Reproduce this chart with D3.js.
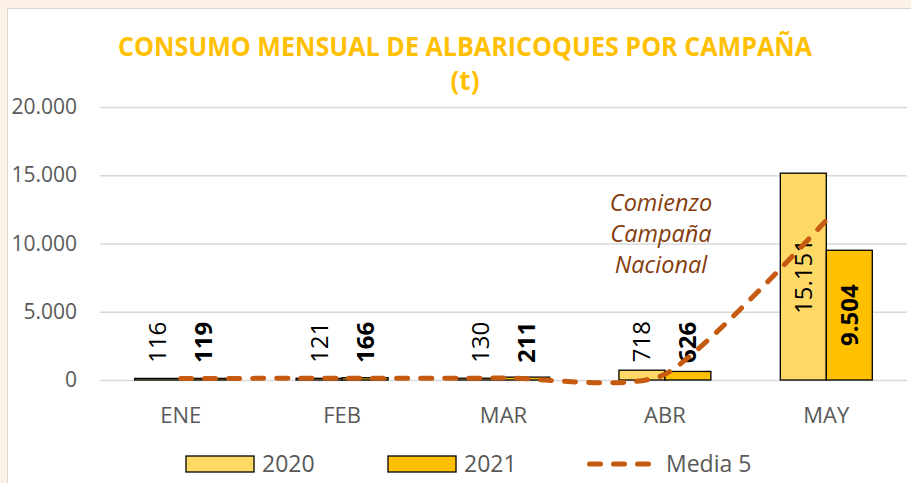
<!DOCTYPE html>
<html>
<head>
<meta charset="utf-8">
<script src="https://cdn.jsdelivr.net/npm/d3@7"></script>
<style>
  body { margin: 0; background: #fff; }
  svg { display: block; }
</style>
</head>
<body>
<svg id="chart" width="911" height="483"></svg>
<script>
// ---- data ----
const months = ["ENE", "FEB", "MAR", "ABR", "MAY"];
const seriesNames = ["2020", "2021"];
const values2020 = [116, 121, 130, 718, 15151];
const values2021 = [119, 166, 211, 626, 9504];
const media5 = [110, 130, 150, 420, 11700];
const media5Name = "Media 5";
const yTicks = [0, 5000, 10000, 15000, 20000];
const titleLines = ["CONSUMO MENSUAL DE ALBARICOQUES POR CAMPAÑA", "(t)"];
const noteLines = ["Comienzo", "Campaña", "Nacional"];

// ---- styling ----
const FONT = "'Open Sans', 'DejaVu Sans', sans-serif";
const colors = { "2020": "#FFD966", "2021": "#FFC000" };
const lineColor = "#C55A11";
const axisText = "#595959";
const gridColor = "#D9D9D9";

const es = d3.formatLocale({ decimal: ",", thousands: ".", grouping: [3], currency: ["", " €"] });
const fmt = es.format(",d");

const svg = d3.select("#chart");
const W = 911, H = 483;

// page background and chart frame
svg.append("rect").attr("width", W).attr("height", H).attr("fill", "#FCF1E6");
svg.append("rect").attr("x", 7.5).attr("y", 8.5).attr("width", W).attr("height", H)
  .attr("fill", "#fff").attr("stroke", "#D6D6D6").attr("stroke-width", 1);

// ---- scales ----
const plot = { left: 100, right: 907, top: 107, bottom: 380 };
const y = d3.scaleLinear().domain([0, 20000]).range([plot.bottom, plot.top]);
const x0 = d3.scaleBand().domain(months).range([plot.left, plot.right])
  .paddingInner(0.43).paddingOuter(0.215);
const x1 = d3.scaleBand().domain(seriesNames).range([0, x0.bandwidth()]);

const rows = months.map((m, i) => ({ month: m, "2020": values2020[i], "2021": values2021[i] }));

// ---- gridlines + y axis ----
const yAxis = d3.axisLeft(y).tickValues(yTicks).tickFormat(fmt)
  .tickSize(-(plot.right - plot.left)).tickPadding(23);
const gy = svg.append("g").attr("transform", `translate(${plot.left},0)`).call(yAxis);
gy.select(".domain").remove();
gy.selectAll(".tick line").attr("stroke", gridColor).attr("stroke-width", 1.3);
gy.selectAll(".tick text").attr("fill", axisText)
  .style("font-family", FONT).style("font-size", "21px");

// ---- x axis labels ----
const xAxis = d3.axisBottom(x0).tickSize(0).tickPadding(27);
const gx = svg.append("g").attr("transform", `translate(0,${plot.bottom})`).call(xAxis);
gx.select(".domain").remove();
gx.selectAll(".tick text").attr("fill", axisText)
  .style("font-family", FONT).style("font-size", "22px");

// ---- bars ----
const groups = svg.append("g").selectAll("g").data(rows).join("g")
  .attr("transform", d => `translate(${x0(d.month)},0)`);

groups.selectAll("rect")
  .data(d => seriesNames.map(s => ({ key: s, value: d[s] })))
  .join("rect")
  .attr("x", d => x1(d.key))
  .attr("y", d => y(d.value))
  .attr("width", x1.bandwidth())
  .attr("height", d => y(0) - y(d.value))
  .attr("fill", d => colors[d.key])
  .attr("stroke", "#000")
  .attr("stroke-width", 1.3);

// value labels, rotated; centred inside tall bars, above short ones
groups.selectAll("text.val")
  .data(d => seriesNames.map(s => ({ key: s, value: d[s] })))
  .join("text")
  .attr("class", "val")
  .each(function (d) {
    const cx = x1(d.key) + x1.bandwidth() / 2;
    const barH = y(0) - y(d.value);
    const inside = barH > 90;
    const t = d3.select(this);
    if (inside) {
      const cy = (y(0) + y(d.value)) / 2;
      t.attr("transform", `translate(${cx},${cy}) rotate(-90)`).attr("text-anchor", "middle");
    } else {
      const startY = Math.min(y(d.value) - 8, y(0) - 17);
      t.attr("transform", `translate(${cx},${startY}) rotate(-90)`).attr("text-anchor", "start");
    }
  })
  .attr("dy", "0.35em")
  .attr("fill", "#000")
  .style("font-family", FONT)
  .style("font-size", "24px")
  .style("font-weight", d => d.key === "2021" ? 700 : 400)
  .text(d => fmt(d.value));

// ---- five-year average line (smoothed) ----
const line = d3.line()
  .x((d, i) => x0(months[i]) + x0.bandwidth() / 2)
  .y(d => y(d))
  .curve(d3.curveCardinal.tension(0.35));

svg.append("path")
  .datum(media5)
  .attr("d", line)
  .attr("fill", "none")
  .attr("stroke", lineColor)
  .attr("stroke-width", 5)
  .attr("stroke-linecap", "round")
  .attr("stroke-dasharray", "11 13");

// ---- annotation ----
const note = svg.append("text")
  .attr("x", 661).attr("y", 211)
  .attr("text-anchor", "middle")
  .attr("fill", "#843C0C")
  .style("font-family", FONT).style("font-size", "23.5px").style("font-style", "italic");
note.selectAll("tspan").data(noteLines).join("tspan")
  .attr("x", 661).attr("dy", (d, i) => i === 0 ? 0 : 31).text(d => d);

// ---- title ----
svg.append("text")
  .attr("x", 465).attr("y", 56)
  .attr("text-anchor", "middle")
  .attr("fill", "#FFC000")
  .attr("textLength", 694).attr("lengthAdjust", "spacingAndGlyphs")
  .style("font-family", FONT).style("font-size", "26px").style("font-weight", 700)
  .text(titleLines[0]);
svg.append("text")
  .attr("x", 465).attr("y", 90)
  .attr("text-anchor", "middle")
  .attr("fill", "#FFC000")
  .style("font-family", FONT).style("font-size", "26px").style("font-weight", 700)
  .text(titleLines[1]);

// ---- legend ----
const legend = svg.append("g").style("font-family", FONT).style("font-size", "23px");
const legendItems = [
  { name: seriesNames[0], kind: "bar", x: 186 },
  { name: seriesNames[1], kind: "bar", x: 388 },
  { name: media5Name, kind: "line", x: 587 }
];
legendItems.forEach(it => {
  if (it.kind === "bar") {
    legend.append("rect").attr("x", it.x).attr("y", 456).attr("width", 68).attr("height", 16)
      .attr("fill", colors[it.name]).attr("stroke", "#000").attr("stroke-width", 1.3);
    legend.append("text").attr("x", it.x + 76).attr("y", 472).attr("fill", axisText).text(it.name);
  } else {
    legend.append("line").attr("x1", it.x + 2.5).attr("x2", it.x + 64.5)
      .attr("y1", 464).attr("y2", 464)
      .attr("stroke", lineColor).attr("stroke-width", 5)
      .attr("stroke-linecap", "round").attr("stroke-dasharray", "11 13");
    legend.append("text").attr("x", it.x + 79).attr("y", 472).attr("fill", axisText).text(it.name);
  }
});
</script>
</body>
</html>
